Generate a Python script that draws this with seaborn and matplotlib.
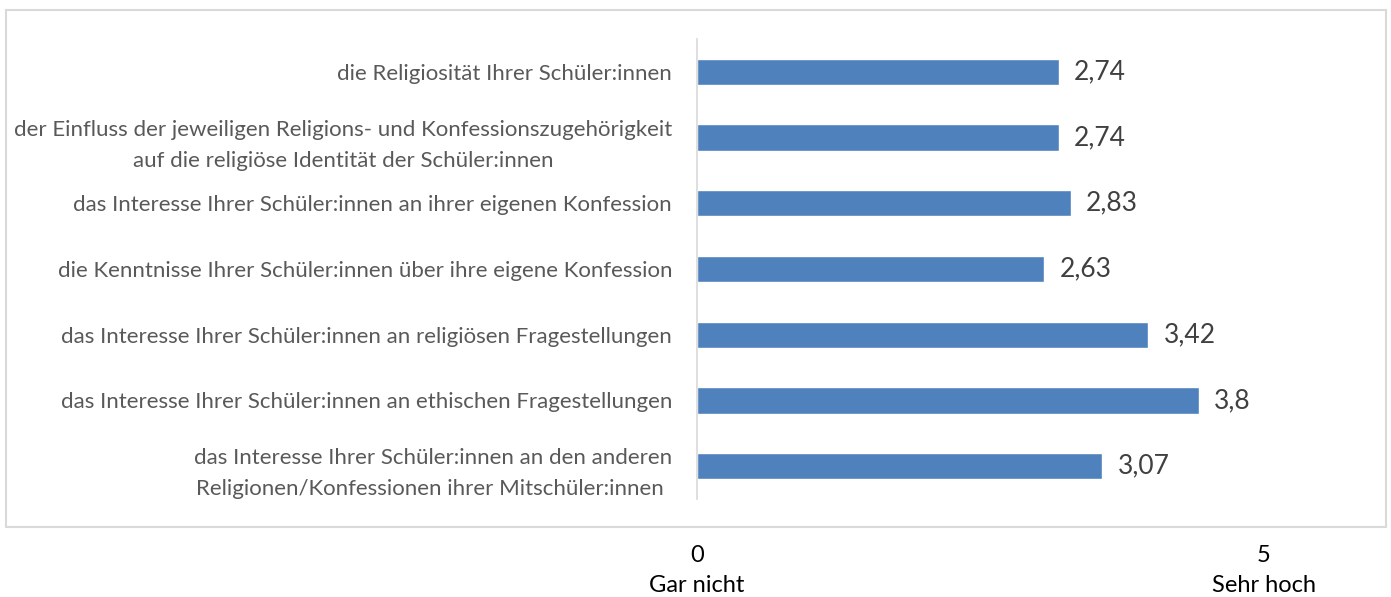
import matplotlib
matplotlib.use('Agg')
import matplotlib.pyplot as plt
import seaborn as sns
import pandas as pd
from matplotlib.patches import Rectangle

# Data
categories = [
    'die Religiosität Ihrer Schüler:innen',
    'der Einfluss der jeweiligen Religions- und Konfessionszugehörigkeit\nauf die religiöse Identität der Schüler:innen',
    'das Interesse Ihrer Schüler:innen an ihrer eigenen Konfession',
    'die Kenntnisse Ihrer Schüler:innen über ihre eigene Konfession',
    'das Interesse Ihrer Schüler:innen an religiösen Fragestellungen',
    'das Interesse Ihrer Schüler:innen an ethischen Fragestellungen',
    'das Interesse Ihrer Schüler:innen an den anderen\nReligionen/Konfessionen ihrer Mitschüler:innen ',
]
values = [2.74, 2.74, 2.83, 2.63, 3.42, 3.80, 3.07]
value_labels = ['2,74', '2,74', '2,83', '2,63', '3,42', '3,8', '3,07']
scale_ticks = ['0', '5']
scale_names = ['Gar nicht', 'Sehr hoch']

df = pd.DataFrame({'item': categories, 'value': values})

sns.set_theme(style='white')
plt.rcParams['font.family'] = ['Lato', 'DejaVu Sans']

W, H = 1391, 597
fig = plt.figure(figsize=(W / 100, H / 100), dpi=100)

# axes placed in pixel terms: zero line at x=697, rows from y=39 to y=499
left, right = 697, 1380
top, bottom = 39, 499
ax = fig.add_axes([left / W, 1 - bottom / H, (right - left) / W, (bottom - top) / H])

sns.barplot(data=df, x='value', y='item', orient='h', color='#4f81bd',
            width=0.4, saturation=1, ax=ax)

ax.set_xlim(0, (right - left) / 132)
ax.set_ylim(6.5, -0.5)
ax.set_xlabel('')
ax.set_ylabel('')
ax.set_xticks([])
for s in ['top', 'right', 'bottom']:
    ax.spines[s].set_visible(False)
ax.spines['left'].set_color('#d9d9d9')
ax.spines['left'].set_linewidth(1.2)
ax.tick_params(axis='y', length=0, pad=18)
ax.set_yticks(range(len(categories)), labels=categories, fontsize=16,
              color='#595959', multialignment='center', linespacing=1.7)

ax.bar_label(ax.containers[0], labels=value_labels, padding=11,
             fontsize=19, color='#404040')

# outer chart border
fig.patches.append(Rectangle((6 / W, 1 - 527 / H), (1386 - 6) / W, (527 - 10) / H,
                             transform=fig.transFigure, fill=False,
                             edgecolor='#d9d9d9', linewidth=1.5))

# scale annotation below the chart
for x, t, n in zip([697, 1264], scale_ticks, scale_names):
    fig.text(x / W, 1 - 555 / H, t, ha='center', va='center', fontsize=17, color='black')
    fig.text(x / W, 1 - 585 / H, n, ha='center', va='center', fontsize=17, color='black')

fig.savefig('out.png', dpi=100)
